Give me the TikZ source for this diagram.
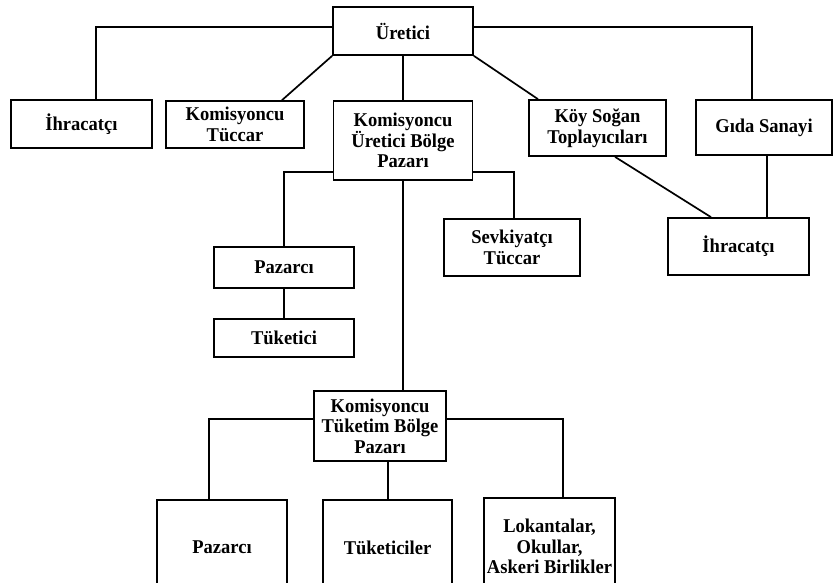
\documentclass[tikz,border=0pt]{standalone}
\usepackage{fontspec}
\setmainfont[FakeStretch=0.95]{Liberation Serif}
\begin{document}
\begin{tikzpicture}[x=1pt,y=-1pt,
  line width=1.7pt,
  box/.style={draw, rectangle, align=center, inner sep=1pt,
    font=\fontsize{19.5}{20.5}\selectfont\bfseries}]
\clip (0,0) rectangle (833,583);
\fill[white] (0,0) rectangle (833,583);

% top level
\node[box, minimum width=140pt, minimum height=48pt] (ur) at (403,31) {Üretici};

% second row
\node[box, minimum width=141pt, minimum height=48pt] (ih1) at (81.5,124) {İhracatçı};
\node[box, minimum width=138pt, minimum height=47pt] (kt) at (235,124.5) {Komisyoncu\\Tüccar};
\node[box, minimum width=139pt, minimum height=79pt] (kubp) at (403,140.5) {Komisyoncu\\Üretici Bölge\\Pazarı};
\node[box, minimum width=137pt, minimum height=56pt] (ks) at (597.5,128) {Köy Soğan\\Toplayıcıları};
\node[box, minimum width=136pt, minimum height=55pt] (gs) at (764,127.5) {Gıda Sanayi};

% third level
\node[box, minimum width=141pt, minimum height=57pt] (ih2) at (738.5,246.5) {İhracatçı};
\node[box, minimum width=140pt, minimum height=41pt] (pz1) at (284,267.5) {Pazarcı};
\node[box, minimum width=140pt, minimum height=38pt] (tk1) at (284,338) {Tüketici};
\node[box, minimum width=136pt, minimum height=57pt] (sv) at (512,247.5) {Sevkiyatçı\\Tüccar};

% consumption region
\node[box, minimum width=132pt, minimum height=70pt] (ktbp) at (380,426) {Komisyoncu\\Tüketim Bölge\\Pazarı};
\node[box, minimum width=130pt, minimum height=95pt] (pz2) at (222,547.5) {Pazarcı};
\node[box, minimum width=129pt, minimum height=95pt] (tk2) at (387.5,547.5) {Tüketiciler};
\node[box, minimum width=131pt, minimum height=97pt] (lk) at (549.5,546.5) {Lokantalar,\\Okullar,\\Askeri Birlikler};

% connectors from the producer
\draw ([yshift=4pt]ur.west) -| ([xshift=14.5pt]ih1.north);
\draw ([yshift=4pt]ur.east) -| ([xshift=-12pt]gs.north);
\draw (ur.south west) -- ([xshift=47pt]kt.north);
\draw (ur.south) -- (ur.south |- kubp.north);
\draw (ur.south east) -- ([xshift=-59.5pt]ks.north);

% connectors from the producer region market
\draw ([yshift=-31.5pt]kubp.west) -| (pz1.north);
\draw ([yshift=-31.5pt]kubp.east) -| ([xshift=2pt]sv.north);
\draw (pz1.south) -- (tk1.north);
\draw (kubp.south) -- (kubp.south |- ktbp.north);

% exporter links
\draw ([xshift=17.5pt]ks.south) -- ([xshift=-27.5pt]ih2.north);
\draw ([xshift=3pt]gs.south) -- ([xshift=3pt]gs.south |- ih2.north);

% connectors from the consumption region market
\draw ([yshift=7pt]ktbp.west) -| ([xshift=-13pt]pz2.north);
\draw ([yshift=7pt]ktbp.east) -| ([xshift=13.5pt]lk.north);
\draw ([xshift=8pt]ktbp.south) -- ([xshift=8pt]ktbp.south |- tk2.north);
\end{tikzpicture}
\end{document}
